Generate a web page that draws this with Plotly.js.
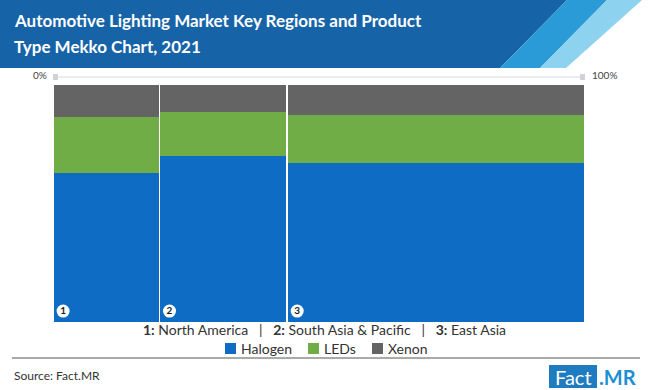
<!DOCTYPE html>
<html>
<head>
<meta charset="utf-8">
<script src="https://cdn.plot.ly/plotly-3.0.1.min.js"></script>
<style>html,body{margin:0;padding:0;background:#fff;}#chart{width:650px;height:390px;}</style>
</head>
<body>
<div id="chart"></div>
<script>
// ---- data ----
const regions = ['North America', 'South Asia & Pacific', 'East Asia'];
const regionNumbers = ['1', '2', '3'];
const regionShare = [20, 24, 56];          // width of each column, % of market
const halogen = [63, 70, 67];              // % within region
const leds = [23.5, 18.5, 20.3];
const xenon = [13.5, 11.5, 12.7];
const seriesNames = ['Halogen', 'LEDs', 'Xenon'];
const seriesColors = ['#0f6cc5', '#71ad47', '#646464'];
const xTickLabels = ['0%', '100%'];
const titleLines = ['Automotive Lighting Market Key Regions and Product', 'Type Mekko Chart, 2021'];

// ---- layout helpers ----
const W = 650, H = 390;
const M = {l: 53, r: 65, t: 85, b: 68};
const PW = W - M.l - M.r, PH = H - M.t - M.b;
const px = x => (x - M.l) / PW;
const py = y => (H - M.b - y) / PH;
const FONT = 'Lato, sans-serif';

// mekko column geometry derived from regionShare
const starts = [];
let acc = 0;
regionShare.forEach(w => { starts.push(acc); acc += w; });
const centers = regionShare.map((w, i) => starts[i] + w / 2);
const widths = regionShare.map(w => w - 0.22);

const values = [halogen, leds, xenon];
const traces = values.map((v, k) => ({
  type: 'bar', name: seriesNames[k], x: centers, y: v, width: widths,
  marker: {color: seriesColors[k], line: {width: 0}},
  showlegend: false, hoverinfo: 'skip'
}));

traces.push({
  type: 'scatter', mode: 'markers+text', x: starts.map(s => s + 1.9),
  y: regions.map(() => 4.6), text: regionNumbers.map(n => '<b>' + n + '</b>'),
  textposition: 'middle center', textfont: {family: FONT, size: 10, color: '#1a1a1a'},
  marker: {symbol: 'circle', size: 13, color: '#ffffff', line: {width: 0}},
  showlegend: false, cliponaxis: false, hoverinfo: 'skip'
});

const regionKey = regions.map((r, i) => '<b>' + regionNumbers[i] + ':</b> ' + r).join('   |   ');

const shapes = [
  // header band
  {type: 'path', xref: 'paper', yref: 'paper', layer: 'below',
   path: `M${px(0)},${py(0)} L${px(567)},${py(0)} L${px(500)},${py(68)} L${px(0)},${py(68)} Z`,
   fillcolor: '#1763a8', line: {width: 0}},
  {type: 'path', xref: 'paper', yref: 'paper', layer: 'below',
   path: `M${px(567)},${py(0)} L${px(607)},${py(0)} L${px(540)},${py(68)} L${px(500)},${py(68)} Z`,
   fillcolor: '#2a9bd6', line: {width: 0}},
  {type: 'path', xref: 'paper', yref: 'paper', layer: 'below',
   path: `M${px(607)},${py(0)} L${px(642)},${py(0)} L${px(566)},${py(68)} L${px(540)},${py(68)} Z`,
   fillcolor: '#8dd3f0', line: {width: 0}},
  // top percentage guide
  {type: 'line', xref: 'x', yref: 'paper', x0: 0, x1: 100, y0: py(77), y1: py(77),
   line: {color: '#d5dbe2', width: 1}},
  {type: 'rect', xref: 'x', yref: 'paper', xsizemode: 'pixel', ysizemode: 'pixel',
   xanchor: 0, yanchor: py(77), x0: -1, x1: 5, y0: -3, y1: 3, fillcolor: '#cfd2d6', line: {width: 0}},
  {type: 'rect', xref: 'x', yref: 'paper', xsizemode: 'pixel', ysizemode: 'pixel',
   xanchor: 100, yanchor: py(77), x0: -5, x1: 1, y0: -3, y1: 3, fillcolor: '#cfd2d6', line: {width: 0}},
  // footer rule
  {type: 'line', xref: 'paper', yref: 'paper', x0: px(12), x1: px(640), y0: py(358), y1: py(358),
   line: {color: '#555555', width: 1}},
  // logo box
  {type: 'rect', xref: 'paper', yref: 'paper', x0: px(549), x1: px(597), y0: py(365), y1: py(388),
   fillcolor: '#1f7cc1', line: {width: 0}}
];

const annotations = [
  {xref: 'paper', yref: 'paper', x: px(12), y: py(21), xanchor: 'left', yanchor: 'middle',
   text: '<b>' + titleLines[0] + '</b>', showarrow: false, font: {family: FONT, size: 17, color: '#ffffff'}},
  {xref: 'paper', yref: 'paper', x: px(12), y: py(46), xanchor: 'left', yanchor: 'middle',
   text: '<b>' + titleLines[1] + '</b>', showarrow: false, font: {family: FONT, size: 17, color: '#ffffff'}},
  {xref: 'x', yref: 'paper', x: 0, y: py(75), xanchor: 'right', xshift: -4, yanchor: 'middle',
   text: xTickLabels[0], showarrow: false, font: {family: FONT, size: 10, color: '#444'}},
  {xref: 'x', yref: 'paper', x: 100, y: py(75), xanchor: 'left', xshift: 5, yanchor: 'middle',
   text: xTickLabels[1], showarrow: false, font: {family: FONT, size: 10, color: '#444'}},
  {xref: 'paper', yref: 'paper', x: px(324), y: py(329), xanchor: 'center', yanchor: 'middle',
   text: regionKey, showarrow: false, font: {family: FONT, size: 14, color: '#333'}},
  {xref: 'paper', yref: 'paper', x: px(12), y: py(375), xanchor: 'left', yanchor: 'middle',
   text: 'Source: Fact.MR', showarrow: false, font: {family: FONT, size: 12, color: '#333'}},
  {xref: 'paper', yref: 'paper', x: px(573), y: py(376.5), xanchor: 'center', yanchor: 'middle',
   text: 'Fact', showarrow: false, font: {family: FONT, size: 20, color: '#ffffff'}},
  {xref: 'paper', yref: 'paper', x: px(597), y: py(376.5), xanchor: 'left', yanchor: 'middle',
   text: '<b>.MR</b>', showarrow: false, font: {family: FONT, size: 20, color: '#1e8fd5'}}
];

// legend (series key) built from series names and colours
const legendLeft = [225, 308, 372];
seriesNames.forEach((name, k) => {
  shapes.push({type: 'rect', xref: 'paper', yref: 'paper',
    x0: px(legendLeft[k]), x1: px(legendLeft[k] + 11), y0: py(354), y1: py(343),
    fillcolor: seriesColors[k], line: {width: 0}});
  annotations.push({xref: 'paper', yref: 'paper', x: px(legendLeft[k] + 14), y: py(348.5),
    xanchor: 'left', yanchor: 'middle', text: name, showarrow: false,
    font: {family: FONT, size: 14, color: '#333'}});
});

const layout = {
  width: W, height: H, margin: M, paper_bgcolor: '#ffffff', plot_bgcolor: '#ffffff',
  barmode: 'stack', bargap: 0,
  xaxis: {range: [0, 100], visible: false, fixedrange: true},
  yaxis: {range: [0, 100], visible: false, fixedrange: true},
  showlegend: false,
  shapes: shapes, annotations: annotations
};

Plotly.newPlot('chart', traces, layout, {displayModeBar: false, staticPlot: true});
</script>
</body>
</html>
